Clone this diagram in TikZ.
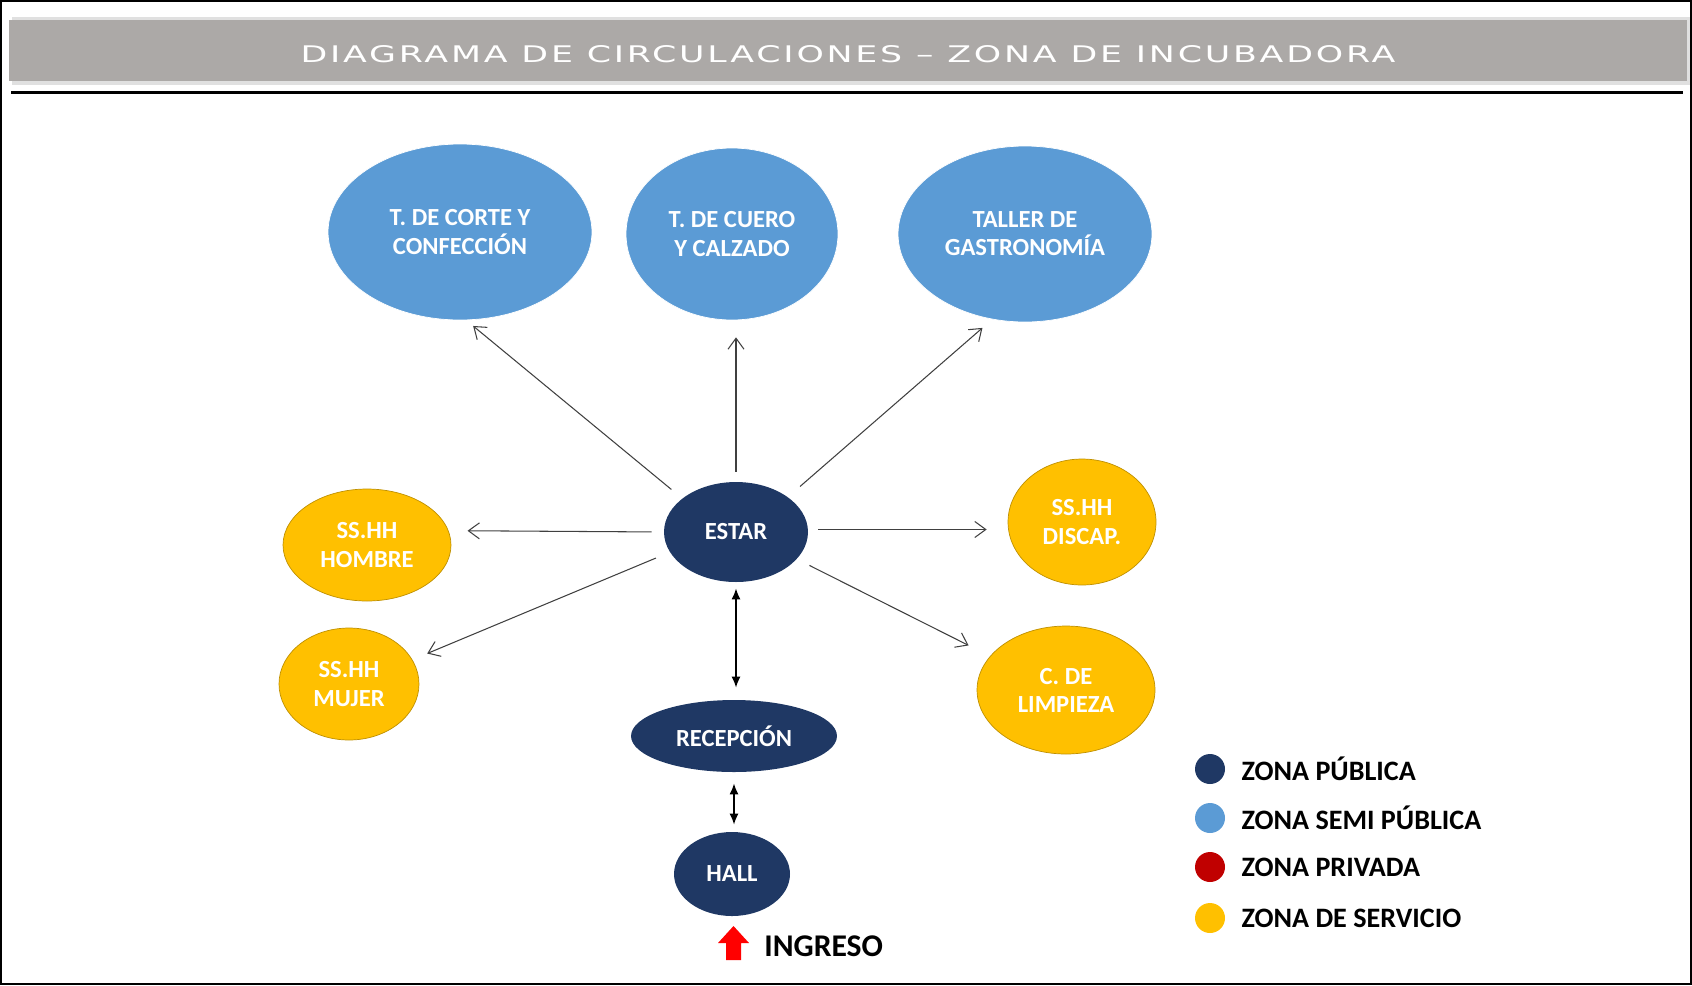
\documentclass[tikz,border=0pt]{standalone}
\usepackage{fontspec}
\setmainfont{Carlito}
\newfontfamily\titlefont[LetterSpace=8]{DejaVu Sans}
\usetikzlibrary{arrows.meta}
\usetikzlibrary{shapes.geometric}
\definecolor{publica}{HTML}{1F3864}
\definecolor{semipublica}{HTML}{5B9BD5}
\definecolor{privada}{HTML}{C00000}
\definecolor{servicio}{HTML}{FFC000}
\definecolor{barra}{RGB}{172,169,167}

\begin{document}
\begin{tikzpicture}[x=0.02cm, y=-0.02cm,
    zona/.style={ellipse, inner sep=0pt, align=center, text=white, font=\fontsize{14}{16}\selectfont\bfseries},
    publica/.style={zona, fill=publica},
    semi/.style={zona, fill=semipublica, draw=white, line width=0.4pt},
    servicio/.style={zona, fill=servicio, draw=servicio!75!black, line width=0.4pt},
    flujo/.style={draw=black!75, line width=0.6pt, -{Straight Barb[length=2.2mm, width=3.2mm]}},
    doble/.style={line width=0.9pt, {Latex[length=2.2mm, width=1.8mm]}-{Latex[length=2.2mm, width=1.8mm]}},
    punto/.style={circle, inner sep=0pt, minimum size=0.6cm},
    every label/.style={font=\fontsize{16}{18}\selectfont\bfseries, xshift=0.2cm}]
  \useasboundingbox (0,0) rectangle (1692,985);

  % marco y titulo
  \draw[line width=1.2pt] (1,1) rectangle (1691,984);
  \fill[black!12] (12,17) rectangle (1690,85);
  \fill[barra] (9,20) rectangle (1687,81);
  \node[text=white] (titulo) at (848,54) {\resizebox{21.9cm}{0.34cm}{\titlefont DIAGRAMA DE CIRCULACIONES – ZONA DE INCUBADORA}};
  \draw[line width=0.06cm] (11,92) -- (1683,92);

  % talleres
  \node[semi, minimum width=5.28cm, minimum height=3.52cm] (corte) at (460,232) {T. DE CORTE Y\\CONFECCIÓN};
  \node[semi, minimum width=4.24cm, minimum height=3.44cm] (cuero) at (732,234) {T. DE CUERO\\Y CALZADO};
  \node[semi, minimum width=5.08cm, minimum height=3.52cm] (gastro) at (1025,234) {TALLER DE\\GASTRONOMÍA};

  % zona publica
  \node[publica, minimum width=2.88cm, minimum height=2.0cm] (estar) at (736,532) {ESTAR};
  \node[publica, minimum width=4.12cm, minimum height=1.44cm] (recepcion) at (734,736) {RECEPCIÓN};
  \node[publica, minimum width=2.32cm, minimum height=1.68cm] (hall) at (732,874) {HALL};

  % servicios
  \node[servicio, minimum width=3.36cm, minimum height=2.24cm] (hombre) at (367,545) {SS.HH\\HOMBRE};
  \node[servicio, minimum width=2.8cm, minimum height=2.24cm] (mujer) at (349,684) {SS.HH\\MUJER};
  \node[servicio, minimum width=2.96cm, minimum height=2.52cm] (discap) at (1082,522) {SS.HH\\DISCAP.};
  \node[servicio, minimum width=3.56cm, minimum height=2.56cm] (limpieza) at (1066,690) {C. DE\\LIMPIEZA};

  % circulaciones
  \draw[flujo, shorten <=0.28cm, shorten >=0.18cm] (estar.148) -- (corte.-86);
  \draw[flujo, shorten <=0.2cm, shorten >=0.34cm] (estar.north) -- (estar.north |- cuero.south);
  \draw[flujo, shorten <=0.32cm, shorten >=0.26cm] (estar.34) -- (gastro.-111);
  \draw[flujo, shorten <=0.24cm, shorten >=0.38cm] (estar.west) -- (hombre.10);
  \draw[flujo, shorten <=0.3cm, shorten >=0.32cm] (estar.197) -- (mujer.21);
  \draw[flujo, shorten <=0.2cm, shorten >=0.42cm] (estar.2) -- (estar.2 -| discap.west);
  \draw[flujo, shorten <=0.28cm, shorten >=0.48cm] (estar.-24) -- (limpieza.156);
  \draw[doble, shorten <=0.12cm, shorten >=0.24cm] (estar.south) -- (estar.south |- recepcion.north);
  \draw[doble, shorten <=0.22cm, shorten >=0.14cm] (recepcion.south) -- (recepcion.south |- hall.north);

  % ingreso
  \fill[red] (733.5,926) -- (749,943) -- (741,943) -- (741,960) -- (726,960) -- (726,943) -- (718,943) -- cycle;
  \node[anchor=west, inner sep=0pt, font=\fontsize{18}{20}\selectfont\bfseries] (ingreso) at (764,946) {INGRESO};

  % leyenda
  \node[punto, fill=publica, label=right:{ZONA PÚBLICA}] (p1) at (1210,769) {};
  \node[punto, fill=semipublica, label=right:{ZONA SEMI PÚBLICA}] (p2) at (1210,818) {};
  \node[punto, fill=privada, label=right:{ZONA PRIVADA}] (p3) at (1210,867) {};
  \node[punto, fill=servicio, label=right:{ZONA DE SERVICIO}] (p4) at (1210,918) {};
\end{tikzpicture}
\end{document}
